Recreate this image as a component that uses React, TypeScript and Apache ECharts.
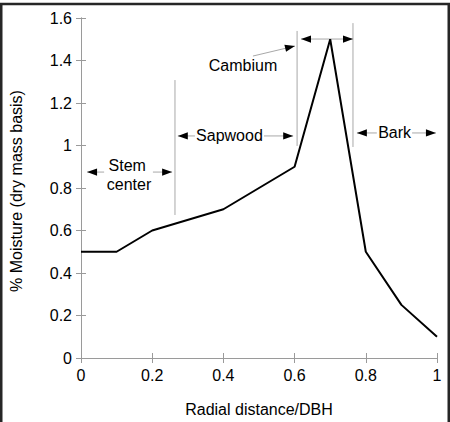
import { useEffect, useRef } from "react";
import * as echarts from "echarts";

// Moisture profile across the stem
const radialDistance = [0, 0.1, 0.2, 0.4, 0.6, 0.7, 0.8, 0.9, 1];
const moisture = [0.5, 0.5, 0.6, 0.7, 0.9, 1.5, 0.5, 0.25, 0.1];

const xTitle = "Radial distance/DBH";
const yTitle = "% Moisture (dry mass basis)";

// Zone boundaries (x, from y, to y) in data units
const zoneBoundaries = [
  [0.264, 0.673, 1.308],
  [0.607, 0.998, 1.539],
  [0.764, 0.993, 1.576],
];

// Double-headed zone arrows: y, left tip, right tip, gap start, gap end
const zoneArrows = [
  { name: "stem", y: 0.875, x1: 0.017, x2: 0.256, g1: 0.065, g2: 0.202 },
  { name: "sapwood", y: 1.045, x1: 0.272, x2: 0.596, g1: 0.32, g2: 0.514 },
  { name: "bark", y: 1.059, x1: 0.775, x2: 0.997, g1: 0.831, g2: 0.93 },
  { name: "cambium", y: 1.501, x1: 0.618, x2: 0.764, g1: 0, g2: 0 },
];

// Zone labels: text, x, y (data units)
const zoneLabels = [
  { text: "Stem", x: 0.13, y: 0.905 },
  { text: "center", x: 0.135, y: 0.815 },
  { text: "Sapwood", x: 0.417, y: 1.048 },
  { text: "Bark", x: 0.881, y: 1.062 },
  { text: "Cambium", x: 0.455, y: 1.378 },
];

// Cambium leader: from, to
const cambiumLeader = [
  [0.483, 1.421],
  [0.601, 1.468],
];

const FONT = "'Liberation Sans', Arial, sans-serif";
const AXIS_GRAY = "#9a9a9a";
const GUIDE_GRAY = "#a8a8a8";

export default function App() {
  const ref = useRef<HTMLDivElement>(null);

  useEffect(() => {
    if (!ref.current) return;
    const chart = echarts.init(ref.current, undefined, { renderer: "svg" });

    const axisCommon = {
      type: "value" as const,
      axisLine: { show: true, lineStyle: { color: AXIS_GRAY, width: 1 } },
      axisTick: { show: true, inside: true, length: 5, lineStyle: { color: AXIS_GRAY } },
      splitLine: { show: false },
    };
    const label = { color: "#000", fontSize: 16, fontFamily: FONT, margin: 9 };

    chart.setOption({
      animation: false,
      backgroundColor: "#fff",
      grid: { left: 81, right: 13, top: 18, bottom: 64 },
      xAxis: [
        { ...axisCommon, min: 0, max: 1, interval: 0.2, position: "bottom", axisLabel: label },
        { ...axisCommon, min: 0, max: 1, interval: 0.2, position: "top", axisLabel: { show: false } },
      ],
      yAxis: [
        { ...axisCommon, min: 0, max: 1.6, interval: 0.2, position: "left", axisLabel: label },
        { ...axisCommon, min: 0, max: 1.6, interval: 0.2, position: "right", axisLabel: { show: false } },
      ],
      series: [
        {
          type: "line",
          xAxisIndex: 0,
          yAxisIndex: 0,
          data: radialDistance.map((x, i) => [x, moisture[i]]),
          showSymbol: false,
          symbol: "none",
          lineStyle: { color: "#000", width: 2 },
          z: 5,
        },
      ],
    });

    const px = (x: number, y: number) =>
      chart.convertToPixel({ xAxisIndex: 0, yAxisIndex: 0 }, [x, y]) as number[];

    const head = (tip: number[], dirX: number, dirY: number) => {
      const len = Math.hypot(dirX, dirY);
      const ux = dirX / len;
      const uy = dirY / len;
      const L = 10;
      const W = 3.6;
      const bx = tip[0] - ux * L;
      const by = tip[1] - uy * L;
      return {
        type: "polygon",
        shape: {
          points: [
            [tip[0], tip[1]],
            [bx - uy * W, by + ux * W],
            [bx + uy * W, by - ux * W],
          ],
        },
        style: { fill: "#000" },
        silent: true,
      };
    };
    const seg = (a: number[], b: number[], color = GUIDE_GRAY) => ({
      type: "line",
      shape: { x1: a[0], y1: a[1], x2: b[0], y2: b[1] },
      style: { stroke: color, lineWidth: 1 },
      silent: true,
    });

    const elements: any[] = [];

    zoneBoundaries.forEach(([x, y0, y1]) => {
      elements.push(seg(px(x, y0), px(x, y1)));
    });

    zoneArrows.forEach((a) => {
      const left = px(a.x1, a.y);
      const right = px(a.x2, a.y);
      if (a.g1 === a.g2) {
        elements.push(seg(left, right));
      } else {
        elements.push(seg(left, px(a.g1, a.y)));
        elements.push(seg(px(a.g2, a.y), right));
      }
      elements.push(head(left, -1, 0));
      elements.push(head(right, 1, 0));
    });

    const lf = px(cambiumLeader[0][0], cambiumLeader[0][1]);
    const lt = px(cambiumLeader[1][0], cambiumLeader[1][1]);
    elements.push(seg(lf, lt));
    elements.push(head(lt, lt[0] - lf[0], lt[1] - lf[1]));

    zoneLabels.forEach((l) => {
      const p = px(l.x, l.y);
      elements.push({
        type: "text",
        x: p[0],
        y: p[1],
        style: {
          text: l.text,
          fill: "#000",
          font: `16px ${FONT}`,
          align: "center",
          verticalAlign: "middle",
        },
        silent: true,
      });
    });

    // Axis titles
    elements.push({
      type: "text",
      x: 259,
      y: 409,
      style: { text: xTitle, fill: "#000", font: `16px ${FONT}`, align: "center", verticalAlign: "middle" },
    });
    elements.push({
      type: "text",
      x: 16,
      y: 191,
      rotation: Math.PI / 2,
      style: { text: yTitle, fill: "#000", font: `16px ${FONT}`, align: "center", verticalAlign: "middle" },
    });

    // Outer frame
    elements.push({
      type: "rect",
      shape: { x: 1.2, y: 4, width: 447.6, height: 440 },
      style: { fill: "none", stroke: "#262626", lineWidth: 2.6 },
      silent: true,
      z: 100,
    });

    chart.setOption({ graphic: { elements } });

    return () => chart.dispose();
  }, []);

  return (
    <div
      ref={ref}
      style={{ position: "fixed", left: 0, top: 0, width: 450, height: 422 }}
    />
  );
}
